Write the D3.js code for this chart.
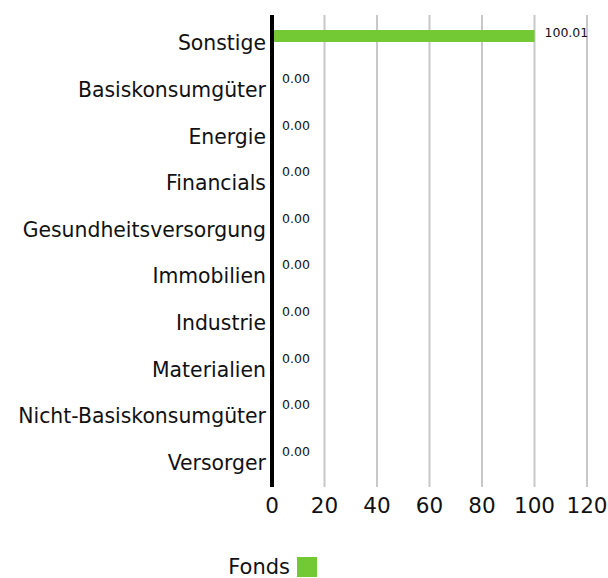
<!DOCTYPE html>
<html>
<head>
<meta charset="utf-8">
<script src="https://cdn.jsdelivr.net/npm/d3@7"></script>
<style>
body { margin: 0; background: #fff; }
svg { display: block; font-family: "DejaVu Sans", sans-serif; }
</style>
</head>
<body>
<svg id="chart"></svg>
<script>
var categories = ["Sonstige", "Basiskonsumgüter", "Energie", "Financials", "Gesundheitsversorgung",
    "Immobilien", "Industrie", "Materialien", "Nicht-Basiskonsumgüter", "Versorger"];
var values = [100.01, 0, 0, 0, 0, 0, 0, 0, 0, 0];
var xTicks = [0, 20, 40, 60, 80, 100, 120];
var seriesName = "Fonds";
var green = "#72c934";

var width = 608, height = 578;
var svg = d3.select("#chart").attr("width", width).attr("height", height);

var x = d3.scaleLinear().domain([0, 120]).range([272, 587]);
var y = d3.scaleBand().domain(categories).range([20, 486]);

// gridlines
svg.append("g")
    .selectAll("line")
    .data(xTicks.slice(1))
    .enter().append("line")
    .attr("x1", d => x(d)).attr("x2", d => x(d))
    .attr("y1", 15).attr("y2", 487)
    .attr("stroke", "#c8c8c8")
    .attr("stroke-width", 2);

// bars
svg.append("g")
    .selectAll("rect")
    .data(values)
    .enter().append("rect")
    .attr("x", x(0))
    .attr("y", (d, i) => y(categories[i]) + 10)
    .attr("width", d => x(d) - x(0))
    .attr("height", 12)
    .attr("fill", green);

// value labels
svg.append("g")
    .selectAll("text")
    .data(values)
    .enter().append("text")
    .attr("x", d => x(d) + 10)
    .attr("y", (d, i) => y(categories[i]) + (d > 0 ? 13 : 12))
    .attr("dy", "0.35em")
    .attr("font-size", 12.5)
    .attr("fill", "#111")
    .text(d => d.toFixed(2));

// category labels
svg.append("g")
    .selectAll("text")
    .data(categories)
    .enter().append("text")
    .attr("x", 266)
    .attr("y", d => y(d) + y.bandwidth() / 2)
    .attr("dy", "0.35em")
    .attr("text-anchor", "end")
    .attr("font-size", 20.4)
    .attr("fill", "#111")
    .text(d => d);

// x axis labels
svg.append("g")
    .selectAll("text")
    .data(xTicks)
    .enter().append("text")
    .attr("x", d => x(d))
    .attr("y", 505)
    .attr("dy", "0.35em")
    .attr("text-anchor", "middle")
    .attr("font-size", 21.5)
    .attr("fill", "#111")
    .text(d => d);

// y axis line
svg.append("line")
    .attr("x1", x(0)).attr("x2", x(0))
    .attr("y1", 15).attr("y2", 487)
    .attr("stroke", "#000")
    .attr("stroke-width", 4);

// legend
var legend = svg.append("g").attr("transform", "translate(0,567)");
legend.append("text")
    .attr("x", 290).attr("y", 0)
    .attr("dy", "0.35em")
    .attr("text-anchor", "end")
    .attr("font-size", 21)
    .attr("fill", "#111")
    .text(seriesName);
legend.append("rect")
    .attr("x", 297).attr("y", -10)
    .attr("width", 20).attr("height", 20)
    .attr("fill", green);
</script>
</body>
</html>
